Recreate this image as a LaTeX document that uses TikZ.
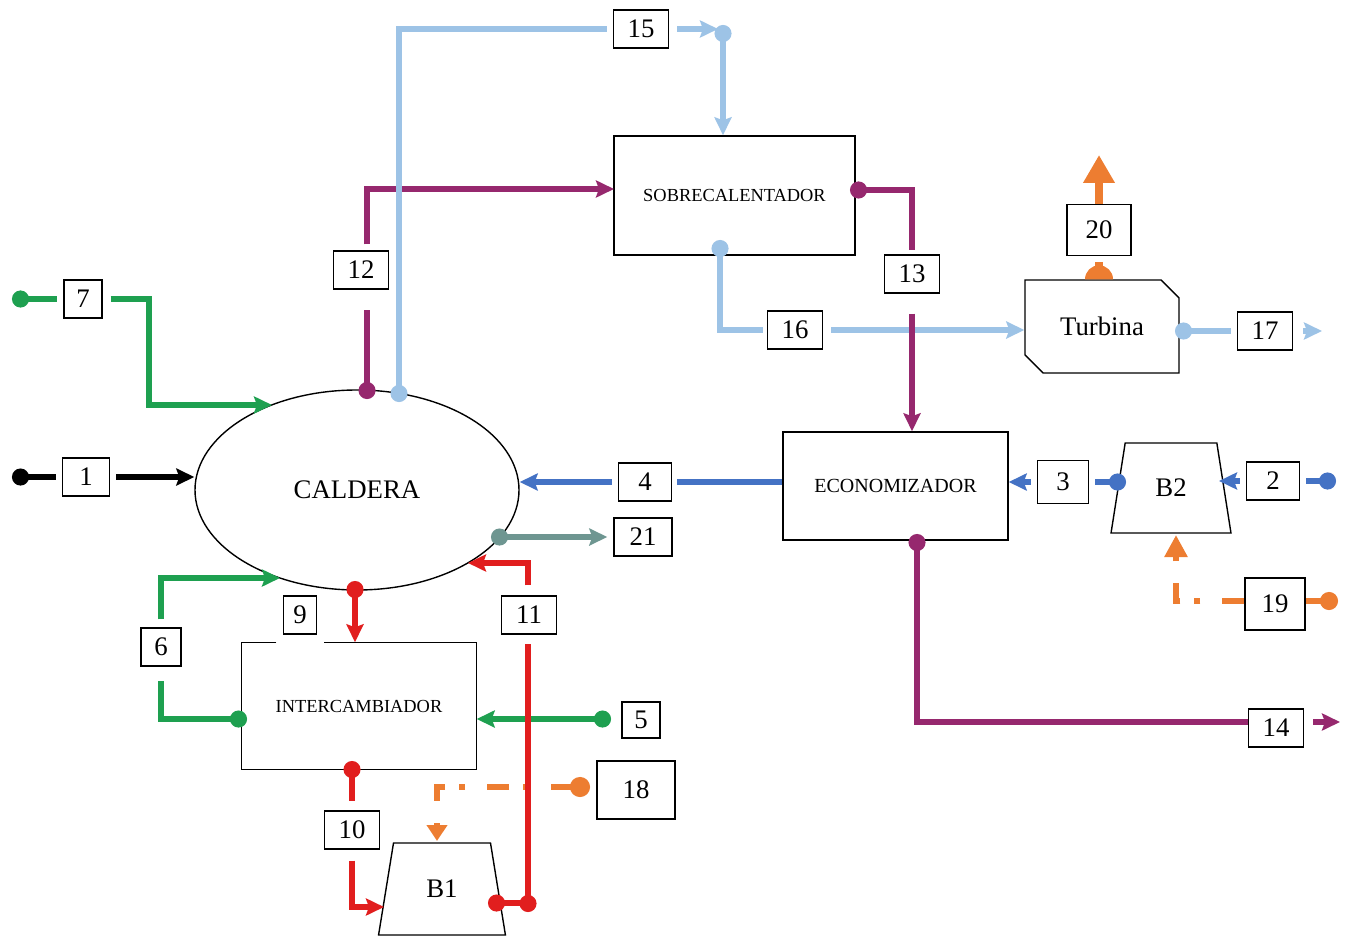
\documentclass[tikz,border=0pt]{standalone}
\usepackage{fontspec}
\setmainfont{Liberation Serif}
\usetikzlibrary{arrows.meta,shapes.geometric,shapes.misc}
\definecolor{cgreen}{RGB}{30,160,80}
\definecolor{cpurple}{RGB}{150,40,110}
\definecolor{clight}{RGB}{157,195,230}
\definecolor{cblue}{RGB}{68,114,196}
\definecolor{cgray}{RGB}{110,150,145}
\definecolor{cred}{RGB}{225,30,30}
\definecolor{corange}{RGB}{237,125,49}
\begin{document}
\begin{tikzpicture}[x=0.5pt,y=-0.5pt]
        \tikzstyle{unit}=[draw=black,fill=white,line width=0.7pt,inner sep=1pt,font=\fontsize{9.2}{11}\selectfont]
        \tikzstyle{bigtext}=[font=\fontsize{13.4}{16}\selectfont]
        \tikzstyle{tag}=[draw=black,fill=white,line width=0.7pt,minimum width=27.5pt,minimum height=19pt,inner sep=1pt,font=\fontsize{13.4}{16}\selectfont]
        \tikzstyle{flow}=[line width=2.6pt]
        \tikzstyle{dotline}=[{Circle[length=8.5pt]}-]
        \tikzstyle{arrline}=[-{Stealth[length=9pt,width=8.5pt,inset=1.5pt]}]
        \tikzstyle{dotarr}=[{Circle[length=8.5pt]}-{Stealth[length=9pt,width=8.5pt,inset=1.5pt]}]
        \tikzstyle{dashdot}=[dash pattern=on 11pt off 11pt on 3pt off 7pt]
        \useasboundingbox (0,0) rectangle (1348,936);

        \node [unit,bigtext,ellipse,minimum width=162pt,minimum height=100pt] (caldera) at (357,490) {CALDERA};
        \node [unit,minimum width=120.5pt,minimum height=59.5pt] (sobre) at (734.5,195.5) {SOBRECALENTADOR};
        \node [unit,minimum width=112.5pt,minimum height=54pt,font=\fontsize{10}{12}\selectfont] (econ) at (895.5,486) {ECONOMIZADOR};
        \node [unit,draw=none,minimum width=117pt,minimum height=63pt] (inter) at (359,706) {INTERCAMBIADOR};
        \draw [line width=0.7pt] (inter.north west) ++(35,0) -- (inter.north west) -- (inter.south west) -- (inter.south east) -- (inter.north east) -- ++(-153,0);
        \node [unit,bigtext,chamfered rectangle,chamfered rectangle corners={north east,south west},chamfered rectangle xsep=4.5pt,chamfered rectangle ysep=4.5pt,minimum width=77pt,minimum height=46.5pt] (turb) at (1102,326.5) {Turbina};
        \node [unit,bigtext,trapezium,trapezium left angle=76,trapezium right angle=76,trapezium stretches=true,minimum width=60pt,minimum height=45pt] (b2) at (1171,488) {B2};
        \node [unit,bigtext,trapezium,trapezium left angle=76,trapezium right angle=76,trapezium stretches=true,minimum width=63.5pt,minimum height=46pt] (b1) at (442,889) {B1};

        \node [tag,minimum width=23.5pt] (t1) at (86,477) {1};
        \node [tag,minimum width=19pt] (t7) at (83,299) {7};
        \node [tag] (t12) at (361,270) {12};
        \node [tag] (t15) at (641,29) {15};
        \node [tag] (t13) at (912,274) {13};
        \node [tag] (t16) at (795,330) {16};
        \node [tag,minimum width=32pt,minimum height=25.5pt] (t20) at (1099,230) {20};
        \node [tag] (t17) at (1265,331) {17};
        \node [tag,minimum width=26.5pt] (t4) at (645,482) {4};
        \node [tag,minimum width=29pt] (t21) at (643,537) {21};
        \node [tag,minimum width=25.5pt,minimum height=21.5pt] (t3) at (1063,482) {3};
        \node [tag,minimum width=26.5pt] (t2) at (1273,481) {2};
        \node [tag,minimum width=30pt,minimum height=26pt] (t19) at (1275,604) {19};
        \node [tag,minimum width=20pt] (t6) at (161,647) {6};
        \node [tag,minimum width=16.5pt] (t9) at (300,615) {9};
        \node [tag] (t11) at (529,615) {11};
        \node [tag,minimum width=19pt,minimum height=18pt] (t5) at (641,720) {5};
        \node [tag] (t10) at (352,830) {10};
        \node [tag,minimum width=39pt,minimum height=29pt] (t18) at (636,790) {18};
        \node [tag] (t14) at (1276,728) {14};

        \coordinate (s1) at (12,477);
        \coordinate (s7) at (12,299);
        \coordinate (k7) at (149,405);
        \coordinate (in7) at (272,405);
        \coordinate (s12) at (367,399);
        \coordinate (in12) at (614,189);
        \coordinate (s15) at (399,402);
        \coordinate (k15) at (718,29);
        \coordinate (d15) at (723,25);
        \coordinate (s13) at (850,190);
        \coordinate (s16) at (720,240);
        \coordinate (s17) at (1175,331);
        \coordinate (e17) at (1322,331);
        \coordinate (e20) at (1099,155);
        \coordinate (s21) at (491,537);
        \coordinate (s3) at (1126,482);
        \coordinate (s2) at (1336,481);
        \coordinate (in2) at (1219,481);
        \coordinate (s19) at (1338,601);
        \coordinate (in19) at (1176,535);
        \coordinate (s18) at (590,787);
        \coordinate (k18) at (437,787);
        \coordinate (in18) at (437,841);
        \coordinate (s5) at (611,719);
        \coordinate (s6) at (247,719);
        \coordinate (in6) at (280,578);
        \coordinate (s9) at (355,581);
        \coordinate (s10) at (352,761);
        \coordinate (in10) at (384,907);
        \coordinate (s11) at (488,903);
        \coordinate (k11) at (528,903);
        \coordinate (c11) at (528,912);
        \coordinate (in11) at (468,563);
        \coordinate (s14) at (917,534);
        \coordinate (e14) at (1340,722);

        \draw [flow,dotline,shorten >=3pt] (s1) -- (t1);
        \draw [flow,arrline,shorten <=3pt] (t1) -- (t1 -| caldera.west);

        \draw [flow,cgreen,dotline,shorten >=3pt] (s7) -- (t7);
        \draw [flow,cgreen,arrline,shorten <=4pt] (t7) -| (k7) -- (in7);

        \draw [flow,cpurple,dotline,shorten >=10pt] (s12) -- (s12 |- t12.south);
        \draw [flow,cpurple,arrline,shorten <=3pt] (s12 |- t12.north) |- (in12);

        \draw [flow,clight,dotline,shorten >=3pt] (s15) |- (t15);
        \draw [flow,clight,arrline,shorten <=4pt] (t15) -- (k15);
        \draw [flow,clight,dotarr] (d15) -- (d15 |- sobre.north);

        \draw [flow,clight,dotline,shorten >=2pt] (s16) |- (t16);
        \draw [flow,clight,arrline,shorten <=4pt] (t16) -- (t16 -| turb.west);

        \draw [flow,cpurple,dotline,shorten >=2pt] (s13) -| (t13);
        \draw [flow,cpurple,arrline,shorten <=10pt] (t13) -- (t13 |- econ.north);

        \draw [flow,clight,dotline,shorten >=3pt] (s17) -- (t17);
        \draw [flow,clight,arrline,shorten <=5pt] (t17) -- (e17);

        \fill [corange] (t20 |- turb.north) ++(-14,0) arc [start angle=180,end angle=360,radius=14];
        \draw [line width=4pt,corange,shorten >=3pt] (t20 |- turb.north) -- (t20);
        \draw [line width=4pt,corange,-{Triangle[length=14pt,width=15pt]}] (t20) -- (e20);

        \draw [flow,cblue,shorten >=2.5pt] (econ.west |- t4) -- (t4);
        \draw [flow,cblue,arrline,shorten <=3pt] (t4) -- (t4 -| caldera.east);

        \draw [flow,cgray,dotarr,shorten >=3pt] (s21) -- (t21);

        \draw [flow,cblue,dotline,shorten >=3pt] (s3) -- (t3);
        \draw [flow,cblue,arrline,shorten <=3pt] (t3) -- (t3 -| econ.east);

        \draw [flow,cblue,dotline,shorten >=3pt] (s2) -- (t2);
        \draw [flow,cblue,arrline,shorten <=3pt] (t2) -- (in2);

        \draw [line width=3pt,corange,{Circle[length=9pt]}-] (s19) -- (s19 -| t19.east);
        \draw [line width=3pt,corange,dashdot,-{Triangle[length=11pt,width=11pt]}] (s19 -| t19.west) -| (in19);

        \draw [line width=3pt,corange,dashdot,{Circle[length=10pt]}-{Triangle[length=8pt,width=10pt]}] (s18) -- (k18) -- (in18);

        \draw [flow,cgreen,dotarr] (s5) -- (s5 -| inter.east);

        \draw [flow,cgreen,dotline,shorten >=7pt] (s6) -| (t6);
        \draw [flow,cgreen,arrline,shorten <=4pt] (t6) |- (in6);

        \draw [flow,cred,dotarr] (s9) -- (s9 |- inter.north);

        \draw [flow,cred,dotline,shorten >=4.5pt] (s10) -- (t10);
        \draw [flow,cred,arrline,shorten <=5.5pt] (t10) |- (in10);

        \draw [flow,cred,dotline] (s11) -- (k11);
        \draw [flow,cred,dotline,shorten >=4.5pt] (c11) -- (c11 |- t11.south);
        \draw [flow,cred,arrline,shorten <=5pt] (c11 |- t11.north) |- (in11);

        \draw [flow,cpurple,dotline] (s14) |- ([yshift=3pt]t14.west);
        \draw [flow,cpurple,arrline,shorten <=4.5pt] ([yshift=3pt]t14.east) -- (e14);
\end{tikzpicture}
\end{document}
